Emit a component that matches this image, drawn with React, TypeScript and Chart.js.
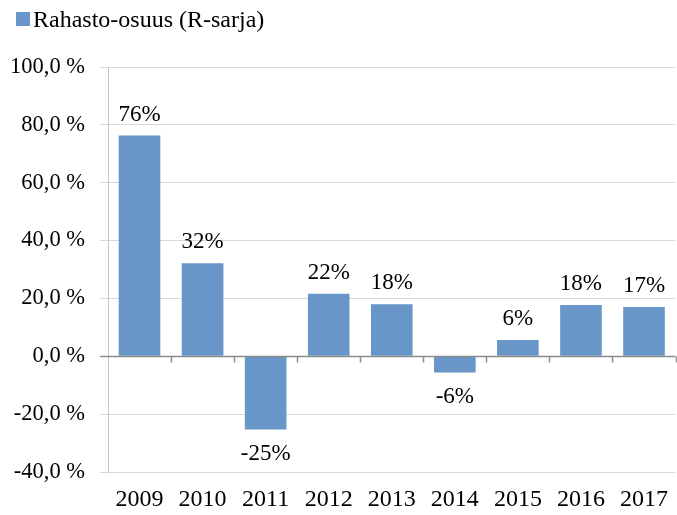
import React, { useEffect, useRef } from 'react';
import { Chart, registerables } from 'chart.js';

Chart.register(...registerables);

const categories = ['2009', '2010', '2011', '2012', '2013', '2014', '2015', '2016', '2017'];
const seriesLabel = 'Rahasto-osuus (R-sarja)';
const values = [76.3, 32.2, -25.3, 21.6, 18.0, -5.6, 5.6, 17.7, 17.0];
const yMin = -40;
const yMax = 100;
const yStep = 20;

const FONT = "'Liberation Serif', 'Times New Roman', serif";
const BAR_COLOR = '#6996c8';

const legendPlugin = {
  id: 'customLegend',
  afterDraw(chart: any) {
    const ctx = chart.ctx;
    const ds = chart.data.datasets[0];
    ctx.save();
    ctx.fillStyle = ds.backgroundColor;
    ctx.fillRect(16, 12, 14, 14);
    ctx.fillStyle = '#000';
    ctx.font = `24px ${FONT}`;
    ctx.textBaseline = 'alphabetic';
    ctx.textAlign = 'left';
    ctx.fillText(ds.label, 33, 27);
    ctx.restore();
  },
};

const zeroLinePlugin = {
  id: 'zeroLine',
  afterDatasetsDraw(chart: any) {
    const { ctx, chartArea, scales } = chart;
    const x = scales.x;
    const y0 = Math.round(scales.y.getPixelForValue(0)) + 0.5;
    const step = x.getPixelForValue(1) - x.getPixelForValue(0);
    ctx.save();
    ctx.strokeStyle = '#8c8c8c';
    ctx.lineWidth = 1.5;
    ctx.beginPath();
    ctx.moveTo(chartArea.left - 8, y0);
    ctx.lineTo(chartArea.right, y0);
    for (let i = 0; i < categories.length; i++) {
      const xb = Math.round(x.getPixelForValue(i) + step / 2) + 0.5;
      ctx.moveTo(xb, y0);
      ctx.lineTo(xb, y0 + 6);
    }
    ctx.stroke();
    ctx.restore();
  },
};

const dataLabelPlugin = {
  id: 'dataLabels',
  afterDatasetsDraw(chart: any) {
    const ctx = chart.ctx;
    const meta = chart.getDatasetMeta(0);
    ctx.save();
    ctx.fillStyle = '#000';
    ctx.font = `23px ${FONT}`;
    ctx.textAlign = 'center';
    ctx.textBaseline = 'alphabetic';
    meta.data.forEach((bar: any, i: number) => {
      const v = values[i];
      const text = `${Math.round(v)}%`;
      const ty = v >= 0 ? bar.y - 15 : bar.y + 31;
      ctx.fillText(text, bar.x, ty);
    });
    ctx.restore();
  },
};

export default function App() {
  const ref = useRef<HTMLCanvasElement | null>(null);

  useEffect(() => {
    if (!ref.current) return;
    const chart = new Chart(ref.current, {
      type: 'bar',
      data: {
        labels: categories,
        datasets: [
          {
            label: seriesLabel,
            data: values,
            backgroundColor: BAR_COLOR,
            borderWidth: 0,
            barPercentage: 0.66,
            categoryPercentage: 1,
          },
        ],
      },
      options: {
        responsive: false,
        animation: false,
        layout: { padding: { top: 67, left: 0, right: 0, bottom: 0 } },
        plugins: {
          legend: { display: false },
          tooltip: { enabled: false },
        },
        scales: {
          x: {
            grid: { display: false, drawTicks: false },
            border: { display: false },
            ticks: {
              color: '#000',
              font: { family: FONT, size: 24 },
              padding: 13,
              maxRotation: 0,
              autoSkip: false,
            },
            afterFit(scale: any) {
              scale.height = 43;
            },
          },
          y: {
            min: yMin,
            max: yMax,
            grid: {
              color: '#d9d9d9',
              tickColor: '#d9d9d9',
              tickLength: 8,
              lineWidth: 1,
            },
            border: { display: true, color: '#c4c4c4', width: 1 },
            ticks: {
              stepSize: yStep,
              color: '#000',
              font: { family: FONT, size: 22.5 },
              padding: 15,
              callback: (v: any) => `${Number(v).toFixed(1).replace('.', ',')} %`,
            },
            afterFit(scale: any) {
              scale.width = 108;
            },
          },
        },
      },
      plugins: [legendPlugin, zeroLinePlugin, dataLabelPlugin],
    });
    return () => chart.destroy();
  }, []);

  return (
    <div style={{ position: 'absolute', left: 0, top: 0, width: 677, height: 515, overflow: 'hidden' }}>
      <canvas ref={ref} width={681} height={515} style={{ width: 681, height: 515, display: 'block' }} />
    </div>
  );
}
